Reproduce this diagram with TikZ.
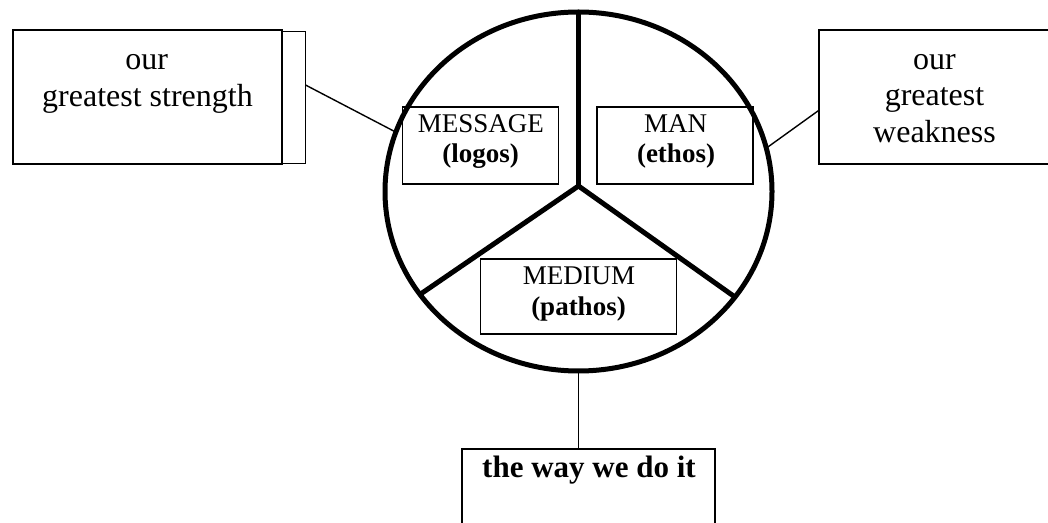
\documentclass[tikz,border=0pt]{standalone}
\usepackage{fontspec}
\setmainfont{Liberation Serif}
\usetikzlibrary{shapes.geometric}
\begin{document}
\begin{tikzpicture}[x=0.5pt,y=-0.5pt,
  outerbox/.style={draw,line width=1pt,rectangle,inner sep=0pt,outer sep=0pt},
  thinbox/.style={draw,line width=0.5pt,rectangle,inner sep=0pt,outer sep=0pt},
  innerbox/.style={draw,line width=0.6pt,rectangle,inner sep=0pt,outer sep=0pt},
  bigtxt/.style={anchor=base,inner sep=0pt,font=\fontsize{16}{18}\selectfont},
  boldtxt/.style={anchor=base,inner sep=0pt,font=\fontsize{15.5}{18}\selectfont\bfseries},
  midtxt/.style={anchor=base,inner sep=0pt,font=\fontsize{13.5}{16}\selectfont},
  midbold/.style={anchor=base,inner sep=0pt,font=\fontsize{13.5}{16}\selectfont\bfseries},
  divider/.style={line width=2.5pt},
  connector/.style={line width=0.7pt}]
\clip (0,0) rectangle (1048,523);
\fill[white] (0,0) rectangle (1048,523);

% circle
\node[ellipse,draw,line width=2.5pt,inner sep=0pt,outer sep=0pt,
      minimum width=193.5pt,minimum height=179.5pt] (circ) at (578.5,191.5) {};
\coordinate (hub) at (578.5,186);
\draw[divider] (hub) -- (circ.90);
\draw[divider] (hub) -- (circ.213);
\draw[divider] (hub) -- (circ.326);

% inner boxes
\node[innerbox,minimum width=77.8pt,minimum height=38.5pt] (msgbox) at (480.5,145.5) {};
\node[innerbox,minimum width=78pt,minimum height=38.5pt] (manbox) at (675,145.5) {};
\node[innerbox,minimum width=97.7pt,minimum height=37.5pt] (medbox) at (578.4,296.5) {};
\node[midtxt] (msg1) at (480.8,133) {MESSAGE};
\node[midbold] (msg2) at (480.5,163) {(logos)};
\node[midtxt] (man1) at (675.5,133) {MAN};
\node[midbold] (man2) at (676,163) {(ethos)};
\node[midtxt] (med1) at (579,285) {MEDIUM};
\node[midbold] (med2) at (578.5,315) {(pathos)};

% left box
\node[thinbox,minimum width=11.5pt,minimum height=66pt] (lback) at (293.5,98) {};
\node[outerbox,fill=white,minimum width=134.7pt,minimum height=67pt] (lbox) at (147.4,97) {};
\node[bigtxt] (l1) at (146.7,70) {our};
\node[bigtxt] (l2) at (147.5,107) {greatest strength};
\coordinate (lc) at (305.5,85);
\draw[connector] (lc) -- (circ.162);

% right box
\node[outerbox,minimum width=120.5pt,minimum height=67pt] (rbox) at (939.5,97) {};
\node[bigtxt] (r1) at (934.5,70) {our};
\node[bigtxt] (r2) at (934.5,106) {greatest};
\node[bigtxt] (r3) at (934.5,143) {weakness};
\coordinate (rc) at (819.3,110);
\draw[connector] (rc) -- (circ.13.5);

% bottom box
\node[thinbox,line width=0.6pt,minimum width=126.5pt,minimum height=55.5pt] (bbox) at (588.5,504.5) {};
\node[boldtxt] (b1) at (589,477) {the way we do it};
\draw[line width=0.5pt] (circ.south) -- (circ.south |- bbox.north);
\end{tikzpicture}
\end{document}
